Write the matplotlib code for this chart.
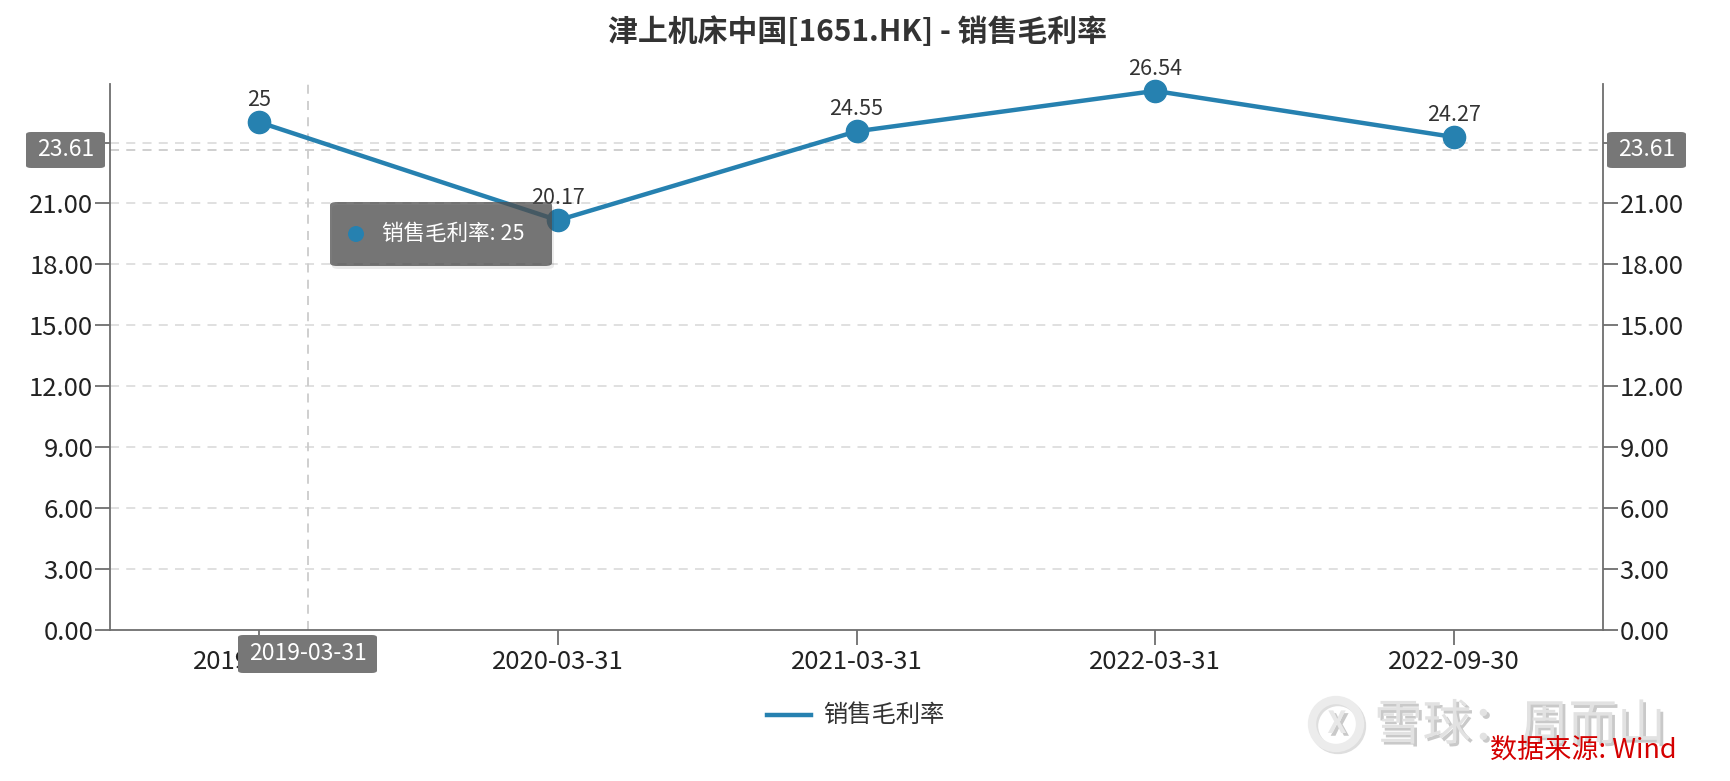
import matplotlib
matplotlib.use("Agg")
import matplotlib.pyplot as plt
import matplotlib.patheffects as pe
from matplotlib.patches import FancyBboxPatch, Ellipse
from matplotlib.lines import Line2D

plt.rcParams['font.family'] = ['Noto Sans CJK SC', 'DejaVu Sans']

# data
dates = ['2019-03-31', '2020-03-31', '2021-03-31', '2022-03-31', '2022-09-30']
gross_margin = [25, 20.17, 24.55, 26.54, 24.27]
y_ticks = [0, 3, 6, 9, 12, 15, 18, 21, 24]
series_name = '销售毛利率'
title = '津上机床中国[1651.HK] - 销售毛利率'
hover_value = 23.61
hover_x = 0.163

W, H = 1730, 781
LINE = '#2681b0'
AXIS = '#6e6e6e'
GRID = '#dddddd'
BOX = '#777777'


def fx(px):
    return px / W


def fy(py):
    return 1 - py / H


def dot(px, py, r, **kw):
    # round in pixels, so give width and height separately
    return Ellipse((fx(px), fy(py)), 2 * r / W, 2 * r / H,
                   transform=fig.transFigure, **kw)


fig = plt.figure(figsize=(W / 100, H / 100), dpi=100)
ax = fig.add_axes([fx(110), fy(630), fx(1603) - fx(110), fy(84) - fy(630)])

x = list(range(len(dates)))
ax.plot(x, gross_margin, color=LINE, lw=3.2, marker='o', ms=16, zorder=5,
        label=series_name, clip_on=False)
for xi, v in zip(x, gross_margin):
    ax.annotate(f'{v:g}', (xi, v), xytext=(0, 8), textcoords='offset points',
                ha='center', va='bottom', fontsize=15.5, color='#333333', zorder=6)

ax.set_xlim(-0.5, len(dates) - 0.5)
ax.set_ylim(0, 26.88)
ax.set_xticks(x)
ax.set_xticklabels(dates)
ax.set_yticks(y_ticks)
ax.set_yticklabels([f'{t:.2f}' for t in y_ticks])
ax.tick_params(axis='both', labelsize=18.5, colors=AXIS, labelcolor='#222222',
               length=11, width=1.3)
ax.tick_params(axis='x', pad=3)
ax.tick_params(axis='y', pad=1, right=True, labelright=True)
for t in y_ticks[1:]:
    ax.axhline(t, color=GRID, lw=1.3, ls=(0, (5, 4)), zorder=1)

# crosshair
ax.axhline(hover_value, color='#cccccc', lw=1.3, ls=(0, (5, 4)), zorder=2)
ax.axvline(hover_x, color='#cccccc', lw=1.3, ls=(0, (5, 4)), zorder=2)

ax.spines['top'].set_visible(False)
for s in ['left', 'right', 'bottom']:
    ax.spines[s].set_color(AXIS)
    ax.spines[s].set_linewidth(1.3)

fig.text(fx(857), fy(32), title, ha='center', va='center', fontsize=21.5,
         fontweight='bold', color='#333333')


def label_box(x0, y0, x1, y1, text, fs=16.5):
    box = FancyBboxPatch((fx(x0), fy(y1)), fx(x1) - fx(x0), fy(y0) - fy(y1),
                         boxstyle='round,pad=0,rounding_size=0.003',
                         transform=fig.transFigure, facecolor=BOX,
                         edgecolor='none', zorder=10)
    fig.add_artist(box)
    fig.text(fx((x0 + x1) / 2), fy((y0 + y1) / 2), text, ha='center',
             va='center', color='white', fontsize=fs, zorder=11)


label_box(26, 132, 105, 168, f'{hover_value:.2f}')
label_box(1607, 132, 1686, 168, f'{hover_value:.2f}')
label_box(238, 635, 377, 673, dates[0])

# tooltip
shadow = FancyBboxPatch((fx(332), fy(269)), fx(552) - fx(330), fy(202) - fy(266),
                        boxstyle='round,pad=0,rounding_size=0.004',
                        transform=fig.transFigure, facecolor='black', alpha=0.08,
                        edgecolor='none', zorder=9)
fig.add_artist(shadow)
tip = FancyBboxPatch((fx(330), fy(266)), fx(552) - fx(330), fy(202) - fy(266),
                     boxstyle='round,pad=0,rounding_size=0.004',
                     transform=fig.transFigure, facecolor='#505050', alpha=0.76,
                     edgecolor='none', zorder=10)
fig.add_artist(tip)
fig.add_artist(dot(356, 234, 8, facecolor=LINE, edgecolor='none', zorder=11))
fig.text(fx(382), fy(234), f'{series_name}: {gross_margin[0]:g}', ha='left',
         va='center', color='white', fontsize=15.5, zorder=11)

# legend
fig.add_artist(Line2D([fx(767), fx(811)], [fy(715), fy(715)], color=LINE, lw=3.2))
fig.text(fx(823), fy(715), series_name, ha='left', va='center', fontsize=17.5,
         color='#333333')

# watermark and source
shadow_fx = [pe.SimplePatchShadow(offset=(2, -2), shadow_rgbFace='#888888', alpha=0.45),
             pe.Normal()]
fig.add_artist(dot(1338, 726, 24, facecolor='none', edgecolor='#c8c8c8', lw=6,
                   alpha=0.6, zorder=3))
fig.add_artist(dot(1336, 724, 24, facecolor='none', edgecolor='#ececec', lw=6,
                   zorder=3))
fig.text(fx(1337), fy(724), 'X', ha='center', va='center', fontsize=22,
         fontweight='bold', color='#e8e8e8', path_effects=shadow_fx)
fig.text(fx(1374), fy(726), '雪球：周而山', ha='left', va='center', fontsize=35,
         color='#e2e2e2', path_effects=shadow_fx)
fig.text(fx(1677), fy(750), '数据来源: Wind', ha='right', va='center',
         fontsize=19.5, color='#d40000', zorder=12)

fig.savefig('out.png', dpi=100)
